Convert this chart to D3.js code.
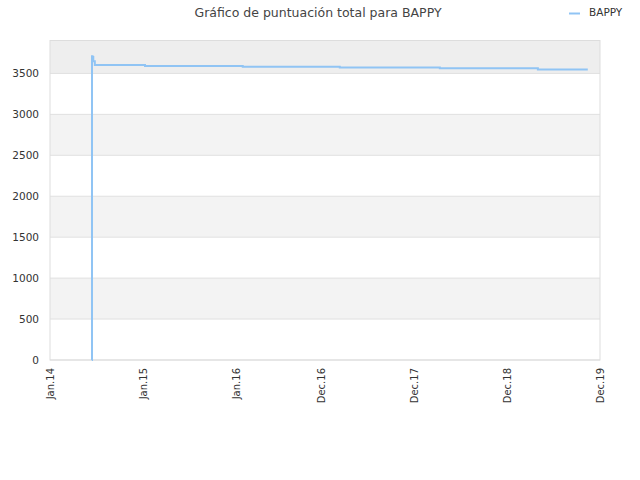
<!DOCTYPE html>
<html><head><meta charset="utf-8">
<script src="https://cdn.jsdelivr.net/npm/d3@7"></script>
<style>body{margin:0;background:#fff;font-family:"DejaVu Sans",sans-serif}</style>
</head><body>
<script>
// data
var dates = ["2014-06-14","2014-06-15","2014-06-17","2014-06-20","2014-06-26","2015-01-09","2016-01-28","2017-02-12","2018-03-12","2019-04-01","2019-10-14"];
var scores = [0,3710,3700,3650,3604,3592,3582,3572,3562,3548,3548];
var tickDates = ["2014-01-01","2015-01-01","2016-01-01","2016-12-01","2017-12-01","2018-12-01","2019-12-01"];
var tickLabels = ["Jan.14","Jan.15","Jan.16","Dec.16","Dec.17","Dec.18","Dec.19"];
var yTicks = [0,500,1000,1500,2000,2500,3000,3500];

var parse = d3.utcParse("%Y-%m-%d");
var svg = d3.select("body").append("svg").attr("width",640).attr("height",480);

var x = d3.scaleUtc().domain([parse(tickDates[0]), parse(tickDates[6])]).range([50,600]);
var y = d3.scaleLinear().domain([0,3902]).range([360,40.5]);

// alternating bands
var bands = [[500,1000],[1500,2000],[2500,3000],[3500,3902]];
svg.selectAll("rect.band").data(bands).enter().append("rect")
    .attr("x",50).attr("width",550)
    .attr("y",d=>y(d[1])).attr("height",d=>y(d[0])-y(d[1]))
    .attr("fill",(d,i)=>i==3?"#eeeeee":"#f3f3f3");

svg.selectAll("line.grid").data(yTicks).enter().append("line")
    .attr("x1",50).attr("x2",600).attr("y1",d=>y(d)).attr("y2",d=>y(d))
    .attr("stroke","#e0e0e0");

svg.append("rect").attr("x",50).attr("y",40.5).attr("width",550).attr("height",319.5)
    .attr("fill","none").attr("stroke","#dddddd");

svg.selectAll("text.y").data(yTicks).enter().append("text")
    .attr("x",39).attr("y",d=>y(d)+4).attr("text-anchor","end")
    .attr("font-size",10.5).attr("fill","#333").text(d=>d);

svg.selectAll("g.xt").data(tickDates).enter().append("text")
    .attr("transform",d=>"translate("+(x(parse(d))+4)+",368) rotate(-90)")
    .attr("text-anchor","end").attr("font-size",10).attr("fill","#333")
    .text((d,i)=>tickLabels[i]);

var pts = dates.map((d,i)=>[parse(d),scores[i]]);
svg.append("path").datum(pts)
    .attr("d",d3.line().x(d=>x(d[0])).y(d=>y(d[1])).curve(d3.curveStepAfter))
    .attr("fill","none").attr("stroke","#90c4f4").attr("stroke-width",2);

svg.append("text").attr("x",318).attr("y",17).attr("text-anchor","middle")
    .attr("font-size",12.5).attr("fill","#444").text("Gráfico de puntuación total para BAPPY");
svg.append("line").attr("x1",569).attr("x2",580).attr("y1",13.5).attr("y2",13.5)
    .attr("stroke","#90c4f4").attr("stroke-width",2);
svg.append("text").attr("x",589).attr("y",16).attr("font-size",10.5).attr("fill","#333").text("BAPPY");
</script>
</body></html>
